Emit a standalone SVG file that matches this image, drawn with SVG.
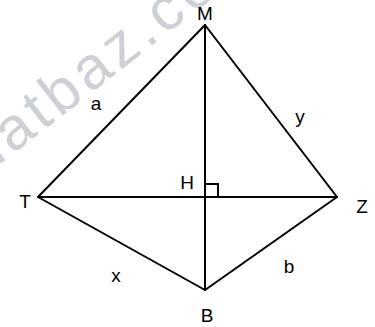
<svg xmlns="http://www.w3.org/2000/svg" width="375" height="327" viewBox="0 0 375 327">
<style>
.lbl{font-family:"Liberation Sans",Arial,sans-serif;font-size:19px;fill:#000;text-anchor:middle}
.edge{stroke:#000;stroke-width:2;fill:none;stroke-linecap:round}
.wm{font-family:"Liberation Sans",Arial,sans-serif;font-size:60px;fill:#cdd1d6;letter-spacing:5px}
</style>
<rect width="375" height="327" fill="#fff"/>
<text class="wm" transform="translate(12.4,154.6) rotate(-38)" x="-38.4">hatbaz.co</text>
<g id="connectors">
<line class="edge" x1="205" y1="25" x2="38" y2="197"/>
<line class="edge" x1="205" y1="25" x2="337" y2="197"/>
<line class="edge" x1="205" y1="25" x2="205" y2="290"/>
<line class="edge" x1="38" y1="197" x2="337" y2="197"/>
<line class="edge" x1="38" y1="197" x2="205" y2="290"/>
<line class="edge" x1="337" y1="197" x2="205" y2="290"/>
<path class="edge" d="M205,184 H218 V197" stroke-linecap="butt"/>
</g>
<g id="M"><text class="lbl" x="205" y="20">M</text></g>
<g id="T"><text class="lbl" x="25" y="208">T</text></g>
<g id="Z"><text class="lbl" x="362" y="213">Z</text></g>
<g id="H"><text class="lbl" x="187" y="189">H</text></g>
<g id="B"><text class="lbl" x="207" y="322">B</text></g>
<g id="label-a"><text class="lbl" x="96" y="110">a</text></g>
<g id="label-y"><text class="lbl" x="300" y="123">y</text></g>
<g id="label-x"><text class="lbl" x="116" y="282">x</text></g>
<g id="label-b"><text class="lbl" x="289" y="273">b</text></g>
</svg>
